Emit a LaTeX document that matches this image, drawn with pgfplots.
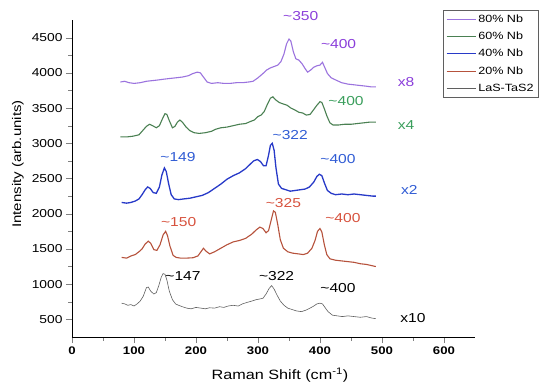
\documentclass[border=0pt]{standalone}
\usepackage{fontspec}
\setmainfont{Liberation Sans}[FakeStretch=1.2]
\usepackage{pgfplots}
\pgfplotsset{compat=1.18}
\definecolor{purp}{RGB}{155,115,222}
\definecolor{purpt}{RGB}{138,62,218}
\definecolor{gre}{RGB}{74,128,82}
\definecolor{gret}{RGB}{58,158,92}
\definecolor{blu}{RGB}{40,58,200}
\definecolor{blut}{RGB}{48,92,212}
\definecolor{redl}{RGB}{182,82,60}
\definecolor{redt}{RGB}{215,82,62}
\definecolor{gry}{RGB}{95,95,95}
\newcommand{\fs}[1]{\fontsize{#1}{#1}\selectfont}
\begin{document}
\begin{tikzpicture}[x=1pt,y=1pt]
\useasboundingbox (-72pt,-52pt) rectangle (478pt,337pt);
\begin{axis}[
  at={(0,0)}, anchor=south west,
  width=403pt, height=317pt, scale only axis,
  xmin=0, xmax=650, ymin=250, ymax=4750,
  axis x line*=bottom, axis y line*=left,
  xtick={0,100,...,600}, ytick={500,1000,...,4500},
  minor x tick num=1, minor y tick num=1,
  tick align=outside,
  major tick length=6pt, minor tick length=3.5pt,
  /pgf/number format/assume math mode=true,
  /pgf/number format/1000 sep={},
  xticklabel style={font=\fs{11}\bfseries},
  yticklabel style={font=\fs{11.5}},
  xlabel={Raman Shift (cm\textsuperscript{-1})},
  ylabel={Intensity (arb.units)},
  xlabel style={font=\fs{13.5}, at={(axis description cs:0.516,-0.12)}, anchor=center},
  ylabel style={font=\fs{12.5}, at={(axis description cs:-0.134,0.546)}, anchor=center},
  clip=false,
  legend style={at={(0.921,1.032)}, anchor=north west, draw=gry, line width=0.6pt,
    font=\fs{10.5}, row sep=4.2pt, inner sep=2.5pt, cells={anchor=west}},
  legend image code/.code={\draw[#1] (0pt,0pt) -- (29pt,0pt);},
]
\addplot[purp, line width=1.1pt] coordinates {
(78,3870)(85,3880)(92,3860)(100,3850)(110,3860)(120,3880)(130,3890)(140,3900)(148,3910)(158,3920)(168,3930)(178,3940)(188,3960)(195,3990)(202,4010)(207,4000)(212,3940)(218,3870)(225,3850)(235,3860)(245,3850)(255,3850)(265,3860)(275,3860)(285,3870)(292,3880)(300,3930)(308,3990)(314,4040)(320,4070)(326,4090)(332,4110)(337,4160)(342,4270)(346,4410)(350,4480)(353,4450)(357,4300)(361,4200)(366,4180)(371,4130)(376,4060)(380,4010)(385,4040)(390,4080)(395,4100)(400,4110)(404,4150)(408,4070)(412,3990)(418,3930)(425,3900)(435,3860)(445,3840)(455,3830)(465,3820)(475,3810)(483,3800)(490,3800)};
\addlegendentry{80\% Nb}
\addplot[gre, line width=1.1pt] coordinates {
(78,3090)(88,3090)(98,3100)(108,3120)(115,3190)(120,3240)(125,3270)(130,3250)(136,3220)(141,3250)(146,3350)(150,3420)(153,3410)(157,3320)(162,3220)(166,3240)(170,3300)(174,3330)(178,3300)(184,3230)(190,3180)(197,3150)(205,3140)(215,3150)(225,3170)(232,3200)(240,3220)(250,3230)(260,3250)(270,3270)(280,3280)(288,3310)(294,3330)(300,3380)(305,3400)(310,3450)(315,3550)(320,3640)(324,3660)(328,3620)(334,3580)(340,3560)(347,3540)(353,3500)(360,3470)(366,3440)(372,3430)(378,3400)(384,3410)(390,3480)(395,3540)(400,3590)(403,3580)(407,3490)(411,3390)(416,3290)(421,3260)(430,3260)(440,3270)(450,3270)(460,3280)(470,3290)(480,3300)(490,3300)};
\addlegendentry{60\% Nb}
\addplot[blu, line width=1.3pt] coordinates {
(80,2160)(88,2150)(95,2160)(102,2180)(108,2210)(113,2270)(118,2340)(122,2380)(126,2360)(131,2300)(136,2290)(141,2380)(145,2550)(149,2650)(152,2600)(156,2420)(160,2270)(165,2210)(172,2200)(180,2210)(190,2220)(200,2240)(210,2260)(220,2300)(230,2360)(240,2420)(250,2490)(260,2540)(270,2580)(280,2640)(287,2700)(293,2750)(299,2770)(304,2740)(309,2680)(313,2680)(317,2830)(320,2970)(323,3000)(326,2900)(329,2650)(333,2420)(338,2360)(345,2340)(352,2320)(360,2330)(368,2340)(376,2350)(383,2380)(390,2450)(395,2530)(399,2560)(403,2540)(407,2440)(412,2330)(418,2290)(425,2270)(435,2280)(445,2270)(455,2280)(465,2270)(475,2260)(485,2250)(490,2250)};
\addlegendentry{40\% Nb}
\addplot[redl, line width=1.1pt] coordinates {
(80,1380)(88,1370)(95,1400)(102,1420)(108,1460)(113,1500)(118,1570)(123,1610)(127,1580)(132,1490)(137,1480)(142,1560)(147,1700)(151,1750)(154,1690)(158,1540)(163,1410)(168,1380)(175,1370)(185,1370)(195,1375)(203,1400)(208,1460)(212,1510)(216,1470)(222,1430)(230,1460)(240,1510)(250,1560)(260,1600)(270,1620)(280,1650)(290,1710)(297,1770)(303,1810)(308,1790)(313,1730)(317,1760)(321,1900)(325,2040)(328,2020)(332,1840)(336,1630)(341,1510)(348,1460)(356,1440)(365,1430)(373,1420)(380,1440)(387,1510)(392,1620)(396,1750)(400,1790)(403,1740)(407,1560)(411,1420)(416,1360)(425,1340)(435,1330)(445,1320)(455,1310)(465,1290)(475,1280)(485,1260)(490,1250)};
\addlegendentry{20\% Nb}
\addplot[gry, line width=0.6pt] coordinates {
(80,730)(85,720)(90,700)(95,710)(100,690)(105,720)(110,760)(115,830)(120,950)(123,960)(127,900)(132,860)(136,880)(140,980)(144,1100)(147,1150)(150,1140)(153,1060)(157,900)(162,780)(167,720)(172,700)(178,680)(185,660)(192,650)(200,670)(208,660)(215,650)(222,665)(230,660)(238,680)(245,670)(252,690)(260,700)(268,690)(275,720)(282,740)(290,760)(297,780)(303,790)(308,800)(313,860)(318,940)(322,980)(326,930)(331,840)(336,760)(342,700)(348,660)(355,640)(362,620)(370,610)(377,630)(384,660)(390,690)(395,720)(400,730)(404,720)(408,670)(413,610)(420,560)(428,550)(436,540)(445,550)(455,540)(465,530)(475,540)(483,520)(490,510)};
\addlegendentry{LaS-TaS2}
\node[purpt, font=\fs{13}] at (axis cs:369,4800) {\textasciitilde350};
\node[purpt, font=\fs{13}] at (axis cs:430,4410) {\textasciitilde400};
\node[purpt, font=\fs{13}] at (axis cs:539,3870) {x8};
\node[gret, font=\fs{13}] at (axis cs:442,3600) {\textasciitilde400};
\node[gret, font=\fs{13}] at (axis cs:539,3260) {x4};
\node[blut, font=\fs{13}] at (axis cs:171,2805) {\textasciitilde149};
\node[blut, font=\fs{13}] at (axis cs:352,3117) {\textasciitilde322};
\node[blut, font=\fs{13}] at (axis cs:429,2776) {\textasciitilde400};
\node[blut, font=\fs{13}] at (axis cs:544,2335) {x2};
\node[redt, font=\fs{13}] at (axis cs:172,1880) {\textasciitilde150};
\node[redt, font=\fs{13}] at (axis cs:341,2150) {\textasciitilde325};
\node[redt, font=\fs{13}] at (axis cs:437,1937) {\textasciitilde400};
\node[black, font=\fs{13}] at (axis cs:179,1110) {\textasciitilde147};
\node[black, font=\fs{13}] at (axis cs:330,1110) {\textasciitilde322};
\node[black, font=\fs{13}] at (axis cs:429,940) {\textasciitilde400};
\node[black, font=\fs{13}] at (axis cs:550,514) {x10};
\end{axis}
\end{tikzpicture}
\end{document}
